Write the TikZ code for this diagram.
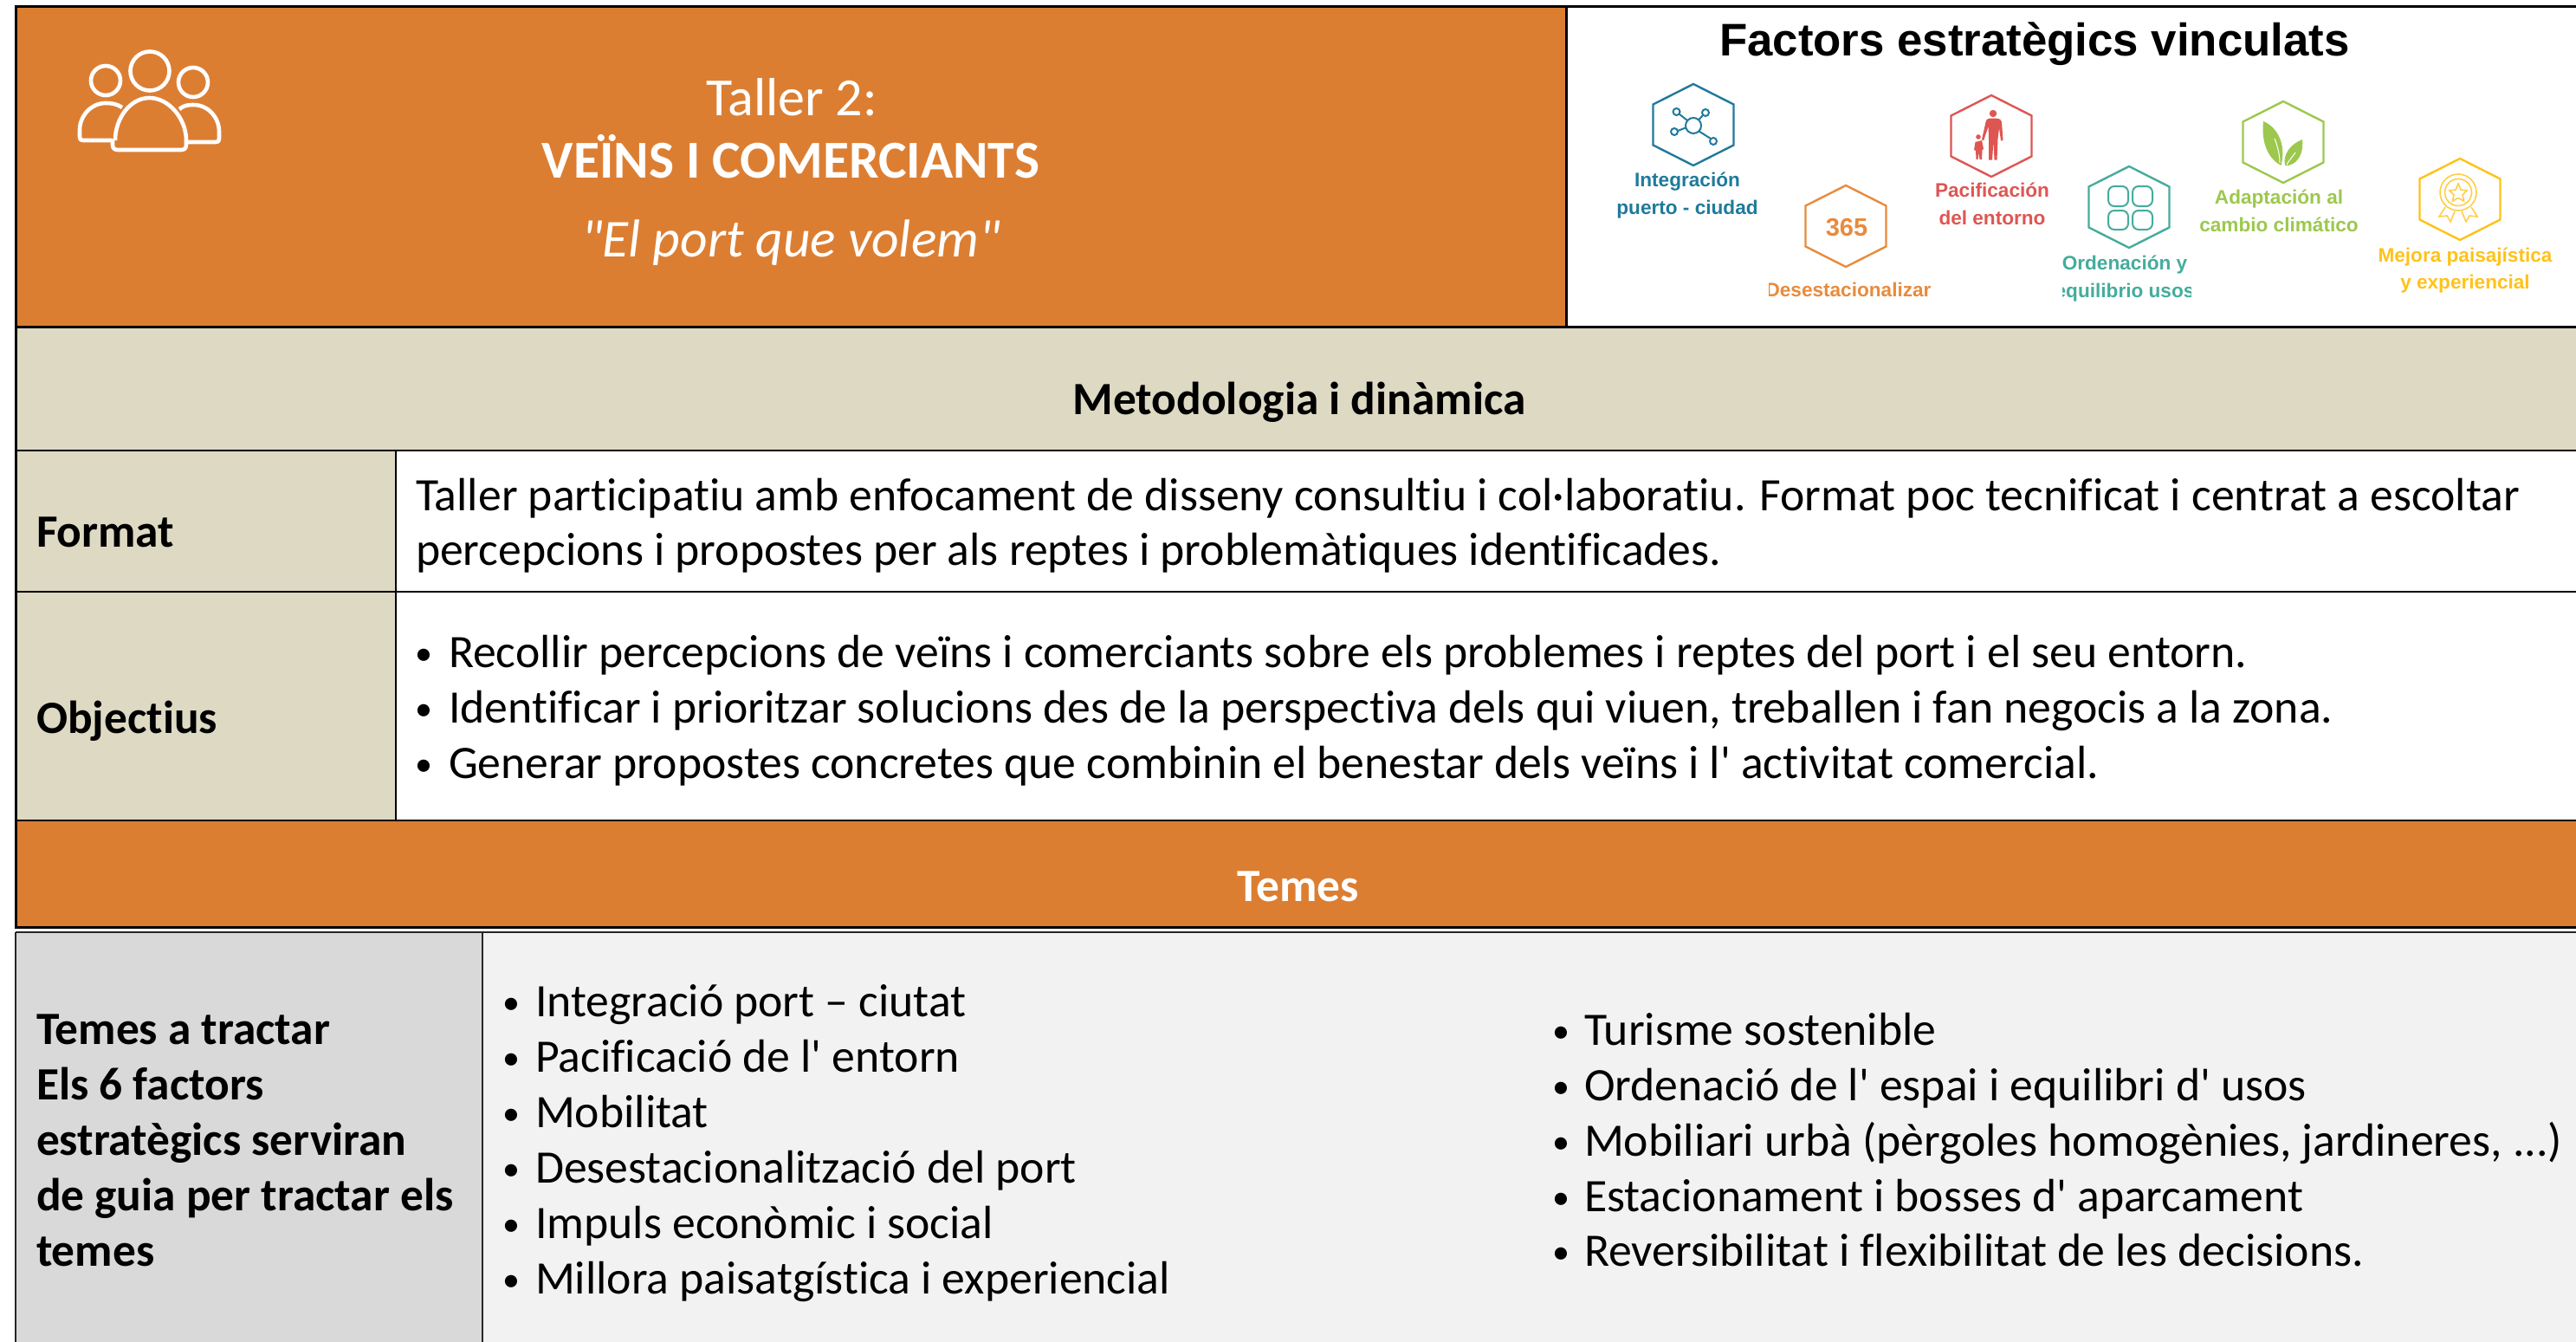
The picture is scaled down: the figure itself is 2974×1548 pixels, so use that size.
\documentclass[tikz,border=0pt]{standalone}
\usepackage{fontspec}
\setmainfont{Carlito}[Ligatures={TeXOff,CommonOff}]
\newfontfamily\arialf{Liberation Sans}
\definecolor{orangeA}{HTML}{DC7E32}
\definecolor{beigeA}{HTML}{DDD9C3}
\definecolor{greyL}{HTML}{D9D9D9}
\definecolor{greyR}{HTML}{F2F2F2}
\definecolor{cBlue}{HTML}{1F7A9C}
\definecolor{cRed}{HTML}{DE5652}
\definecolor{cOrange}{HTML}{E88B3C}
\definecolor{cTeal}{HTML}{45AC9C}
\definecolor{cGreen}{HTML}{9CC84E}
\definecolor{cYellow}{HTML}{FFC21A}
\newcommand{\hexa}[3]{\draw[#3,line width=2.4pt,line join=miter] (#1,-#2+47) -- (#1+46.5,-#2+23.5) -- (#1+46.5,-#2-23.5) -- (#1,-#2-47) -- (#1-46.5,-#2-23.5) -- (#1-46.5,-#2+23.5) -- cycle;}
\tikzset{
  x=1pt,y=1pt,
  txt/.style={inner sep=0pt,outer sep=0pt,anchor=base west,font=\fontsize{53.7}{64}\selectfont,text=black},
  bul/.style={inner sep=0pt,outer sep=0pt,anchor=base,yshift=3pt,font=\fontsize{40}{48}\selectfont,text=black},
  bld/.style={txt,font=\fontsize{53.4}{64}\selectfont\bfseries},
  ctr/.style={inner sep=0pt,outer sep=0pt,anchor=base},
  lab/.style={ctr,font=\arialf\fontsize{22.6}{28}\selectfont\bfseries},
  blk/.style={line width=3pt,draw=black},
  gry/.style={line width=2.5pt,draw=black!85},
  ppl/.style={draw=white,line width=4.6pt,line join=round,fill=none},
}
\begin{document}
\begin{tikzpicture}
\useasboundingbox (0,0) rectangle (2974,-1548);
% fills
\fill[white] (0,0) rectangle (2974,-1548);
\fill[orangeA] (18,-7) rectangle (1808,-377);
\fill[beigeA] (18,-377) rectangle (2974,-520);
\fill[beigeA] (18,-520) rectangle (457,-947);
\fill[orangeA] (18,-947) rectangle (2974,-1070);
\fill[greyL] (18,-1076) rectangle (557,-1552);
\fill[greyR] (557,-1076) rectangle (2974,-1552);
% lines
\draw[blk] (18,-7) -- (2974,-7);
\draw[blk] (18,-377) -- (2974,-377);
\draw[line width=2.5pt] (18,-520) -- (2974,-520);
\draw[line width=2.5pt] (18,-683) -- (2974,-683);
\draw[line width=2.5pt] (18,-947) -- (2974,-947);
\draw[blk] (18,-1070) -- (2974,-1070);
\draw[blk] (18,-5.5) -- (18,-1071.5);
\draw[blk] (1808,-7) -- (1808,-377);
\draw[line width=2.5pt] (457,-520) -- (457,-947);
\draw[gry] (18,-1076) -- (2974,-1076);
\draw[gry] (18,-1076) -- (18,-1552);
\draw[gry] (557,-1076) -- (557,-1552);
% people icon
\draw[ppl] (173,-82) circle (22.5);
\draw[ppl] (122,-93) circle (17);
\draw[ppl] (223,-95) circle (17);
\draw[ppl] (133,-162) .. controls (133,-137) and (150,-113) .. (172.5,-113) .. controls (195,-113) and (215,-137) .. (215,-162) -- (215,-167) .. controls (215,-171) and (213,-173) .. (209,-173) -- (136,-173) .. controls (132,-173) and (130,-171) .. (130,-167) -- (130,-160);
\draw[ppl] (141,-124) .. controls (135,-120) and (129,-119) .. (122,-119) .. controls (105,-119) and (92,-134) .. (92,-150) -- (92,-158) .. controls (92,-161) and (93,-162) .. (96,-162) -- (129,-162);
\draw[ppl] (207,-126) .. controls (212,-122) and (216,-121) .. (223,-121) .. controls (241,-121) and (253,-136) .. (253,-152) -- (253,-160) .. controls (253,-163) and (252,-164) .. (249,-164) -- (216,-164);
% title
\node[ctr,text=white,font=\fontsize{62}{70}\selectfont] (t1) at (914,-133) {Taller 2:};
\node[ctr,text=white,font=\fontsize{61.5}{70}\selectfont\bfseries] (t2) at (913,-205) {VEÏNS I COMERCIANTS};
\node[ctr,text=white,font=\fontsize{61.5}{70}\selectfont\itshape] (t3) at (913,-296) {"El port que volem"};
% factors
\node[ctr,text=black,font=\arialf\fontsize{52.8}{60}\selectfont\bfseries] (ft) at (2349,-64) {Factors estratègics vinculats};
\hexa{1955}{144}{cBlue}
\hexa{2299}{157}{cRed}
\hexa{2131}{261}{cOrange}
\hexa{2458}{239}{cTeal}
\hexa{2636}{164}{cGreen}
\hexa{2840}{230}{cYellow}
% network icon
\begin{scope}[draw=cBlue,line width=2pt]
\draw (1955,-145) circle (9);
\draw (1935.5,-129) circle (4);
\draw (1969,-130) circle (4);
\draw (1933,-152) circle (4);
\draw (1978,-163) circle (4);
\draw (1948,-139) -- (1938.5,-131.5);
\draw (1961,-138.5) -- (1966,-133);
\draw (1946,-147.5) -- (1937,-151);
\draw (1961.5,-151.5) -- (1975,-160);
\end{scope}
% 365
\node[ctr,text=cOrange,font=\arialf\fontsize{29}{34}\selectfont\bfseries] (n365) at (2132,-272) {365};
% people red
\fill[cRed] (2301,-131) circle (4.2);
\fill[cRed] (2292.5,-141) .. controls (2293,-137) and (2296,-136.5) .. (2301,-136.5) .. controls (2307,-136.5) and (2310,-137) .. (2311,-141) -- (2312.5,-162) -- (2310,-162.5) -- (2308,-148) -- (2306.5,-160) -- (2305.5,-184.5) -- (2302.5,-184.5) -- (2301.5,-163) -- (2300,-184.5) -- (2296,-184.5) -- (2296,-160) -- (2295.5,-146) -- (2290,-162.5) -- (2288,-161) -- cycle;
\fill[cRed] (2284,-158) circle (2.8);
\fill[cRed] (2280.5,-164) -- (2288,-162) -- (2290,-172) -- (2288.5,-173) -- (2288,-184) -- (2285.5,-184) -- (2284.5,-176) -- (2283.5,-184) -- (2281.5,-184) -- (2281,-174) -- (2279,-173) -- cycle;
% leaves
\fill[cGreen] (2613,-140) .. controls (2628,-146) and (2640,-165) .. (2633.5,-191) .. controls (2622,-185) and (2610,-170) .. (2613,-140) -- cycle;
\fill[cGreen] (2658,-161) .. controls (2660,-180) and (2650,-192) .. (2638,-191) .. controls (2635,-178) and (2645,-166) .. (2658,-161) -- cycle;
\draw[white,line width=1pt] (2626,-160) .. controls (2630,-170) and (2632,-180) .. (2632,-188);
\draw[white,line width=1pt] (2650,-176) .. controls (2646,-182) and (2642,-186) .. (2640,-190);
% medal
\begin{scope}[draw=cYellow!80,line width=1.6pt]
\draw (2838,-222) circle (21);
\draw (2838,-222) circle (15.5);
\draw (2838,-212) -- (2841,-219) -- (2848,-220) -- (2843,-225) -- (2844.5,-232) -- (2838,-228.5) -- (2831.5,-232) -- (2833,-225) -- (2828,-220) -- (2835,-219) -- cycle;
\draw (2823,-239) -- (2816,-250) -- (2825,-249) -- (2829,-256) -- (2834,-244);
\draw (2853,-239) -- (2860,-250) -- (2851,-249) -- (2847,-256) -- (2842,-244);
\end{scope}
% labels
\node[lab,text=cBlue] (l1a) at (1948,-215) {Integración};
\node[lab,text=cBlue] (l1b) at (1948,-247) {puerto - ciudad};
\node[lab,text=cRed] (l2a) at (2300,-227) {Pacificación};
\node[lab,text=cRed] (l2b) at (2300,-259) {del entorno};
\begin{scope}
\clip (2042,-310) rectangle (2240,-360);
\node[lab,text=cOrange] (l3) at (2134,-342) {Desestacionalizar};
\end{scope}
\begin{scope}
\clip (2381,-285) rectangle (2529,-360);
\node[lab,text=cTeal] (l4a) at (2453,-311) {Ordenación y};
\node[lab,text=cTeal] (l4b) at (2453,-343) {equilibrio usos};
\end{scope}
\node[lab,text=cGreen] (l5a) at (2631,-235) {Adaptación al};
\node[lab,text=cGreen] (l5b) at (2631,-267) {cambio climático};
\node[lab,text=cYellow] (l6a) at (2846,-302) {Mejora paisajística};
\node[lab,text=cYellow] (l6b) at (2846,-333) {y experiencial};
% ordering icon
\begin{scope}[draw=cTeal,line width=2pt]
\draw[rounded corners=7pt] (2434,-215) rectangle (2457,-238);
\draw[rounded corners=7pt] (2462,-215) rectangle (2485,-238);
\draw[rounded corners=7pt] (2434,-243) rectangle (2457,-265);
\draw[rounded corners=7pt] (2462,-243) rectangle (2485,-265);
\end{scope}
% table text
\node[ctr,font=\fontsize{53.4}{64}\selectfont\bfseries] (met) at (1500,-478) {Metodologia i dinàmica};
\node[bld] (fm) at (42,-631) {Format};
\node[txt] (fl1) at (480,-589) {Taller participatiu amb enfocament de disseny consultiu i col·laboratiu. Format poc tecnificat i centrat a escoltar};
\node[txt] (fl2) at (480,-652) {percepcions i propostes per als reptes i problemàtiques identificades.};
\node[bld] (ob) at (42,-846) {Objectius};
\node[bul] (b1) at (489,-770) {•};
\node[bul] (b2) at (489,-834) {•};
\node[bul] (b3) at (489,-898) {•};
\node[txt] (o1) at (518,-770) {Recollir percepcions de veïns i comerciants sobre els problemes i reptes del port i el seu entorn.};
\node[txt] (o2) at (518,-834) {Identificar i prioritzar solucions des de la perspectiva dels qui viuen, treballen i fan negocis a la zona.};
\node[txt] (o3) at (518,-898) {Generar propostes concretes que combinin el benestar dels veïns i l' activitat comercial.};
\node[ctr,text=white,font=\fontsize{53.4}{64}\selectfont\bfseries] (tm) at (1499,-1040) {Temes};
\node[bld] (g1) at (42,-1205) {Temes a tractar};
\node[bld] (g2) at (42,-1269) {Els 6 factors};
\node[bld] (g3) at (42,-1333) {estratègics serviran};
\node[bld] (g4) at (42,-1397) {de guia per tractar els};
\node[bld] (g5) at (42,-1461) {temes};
\node[bul] (c1) at (590,-1173) {•};
\node[bul] (c2) at (590,-1237) {•};
\node[bul] (c3) at (590,-1301) {•};
\node[bul] (c4) at (590,-1365) {•};
\node[bul] (c5) at (590,-1429) {•};
\node[bul] (c6) at (590,-1493) {•};
\node[txt] (l1) at (618,-1173) {Integració port – ciutat};
\node[txt] (l2) at (618,-1237) {Pacificació de l' entorn};
\node[txt] (l3x) at (618,-1301) {Mobilitat};
\node[txt] (l4) at (618,-1365) {Desestacionalització del port};
\node[txt] (l5) at (618,-1429) {Impuls econòmic i social};
\node[txt] (l6) at (618,-1493) {Millora paisatgística i experiencial};
\node[bul] (d1) at (1802,-1206) {•};
\node[bul] (d2) at (1802,-1270) {•};
\node[bul] (d3) at (1802,-1334) {•};
\node[bul] (d4) at (1802,-1398) {•};
\node[bul] (d5) at (1802,-1461) {•};
\node[txt] (r1) at (1829,-1206) {Turisme sostenible};
\node[txt] (r2) at (1829,-1270) {Ordenació de l' espai i equilibri d' usos};
\node[txt] (r3) at (1829,-1334) {Mobiliari urbà (pèrgoles homogènies, jardineres, ...)};
\node[txt] (r4) at (1829,-1398) {Estacionament i bosses d' aparcament};
\node[txt] (r5) at (1829,-1461) {Reversibilitat i flexibilitat de les decisions.};
\end{tikzpicture}
\end{document}
